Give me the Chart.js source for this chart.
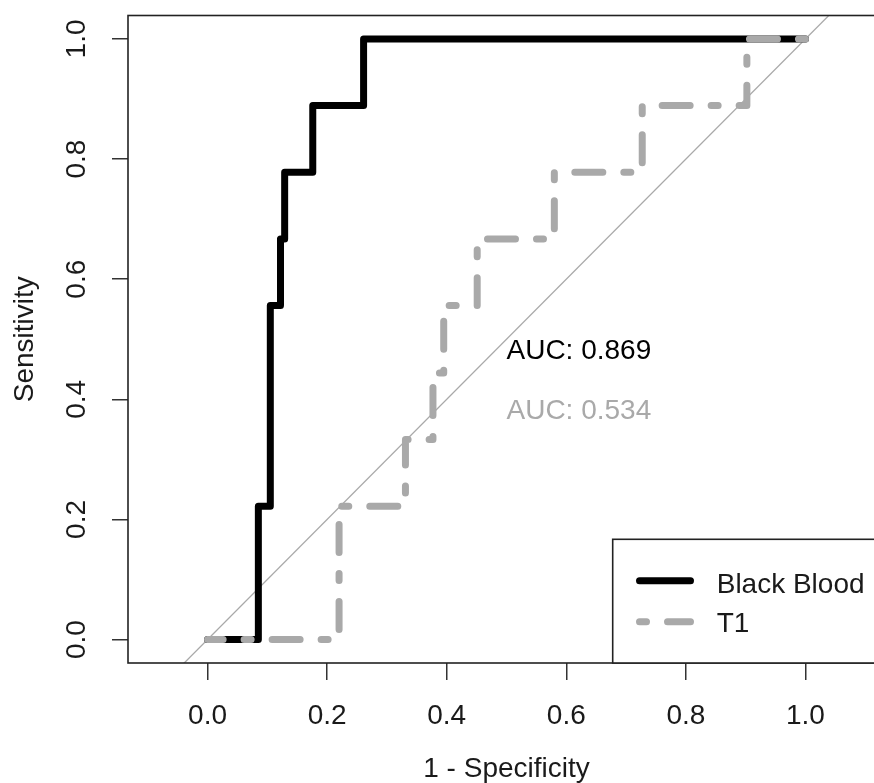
<!DOCTYPE html>
<html>
<head>
<meta charset="utf-8">
<script src="https://cdn.jsdelivr.net/npm/chart.js@4.4.1/dist/chart.umd.min.js"></script>
<style>
html, body { margin: 0; padding: 0; overflow: hidden; background: #fff; }
#wrap { position: relative; width: 900px; height: 783px; }
</style>
</head>
<body>
<div id="wrap"><canvas id="roc" width="900" height="783"></canvas></div>
<script>
// ROC curves, ordered from (1,1) down to (0,0)
const bbFpr  = [1, 0.261, 0.261, 0.176, 0.176, 0.129, 0.129, 0.122, 0.122, 0.105, 0.105, 0.085, 0.085, 0];
const bbSens = [1, 1, 0.889, 0.889, 0.778, 0.778, 0.667, 0.667, 0.556, 0.556, 0.222, 0.222, 0, 0];
const t1Fpr  = [1, 0.902, 0.902, 0.727, 0.727, 0.580, 0.580, 0.451, 0.451, 0.395, 0.395, 0.377, 0.377, 0.331, 0.331, 0.220, 0.220, 0];
const t1Sens = [1, 1, 0.889, 0.889, 0.778, 0.778, 0.667, 0.667, 0.556, 0.556, 0.444, 0.444, 0.333, 0.333, 0.222, 0.222, 0, 0];
const seriesNames = ['Black Blood', 'T1'];
const aucLabels = ['AUC: 0.869', 'AUC: 0.534'];
const xTicks = [0, 0.2, 0.4, 0.6, 0.8, 1.0];
const xTickLabels = ['0.0', '0.2', '0.4', '0.6', '0.8', '1.0'];
const yTicks = [0, 0.2, 0.4, 0.6, 0.8, 1.0];
const yTickLabels = ['0.0', '0.2', '0.4', '0.6', '0.8', '1.0'];
const identity = [-0.2, 1.3];

const FONT = "'Liberation Sans', Arial, Helvetica, sans-serif";
const TXT = '#1a1a1a';
const BB_COL = '#000000';
const T1_COL = '#a9a9a9';
const T1_DASH = [7, 21, 28, 21]; // R "dotdash"

Chart.defaults.font.family = FONT;

// box, rotated y labels, AUC text and legend, R style
const extras = {
    id: 'extras',
    afterDraw(chart) {
        const { ctx, chartArea: a, scales: { x, y } } = chart;
        ctx.save();
        ctx.strokeStyle = '#222';
        ctx.lineWidth = 1.6;
        ctx.strokeRect(a.left, a.top, a.right - a.left, a.bottom - a.top);

        ctx.font = '28px ' + FONT;
        ctx.fillStyle = TXT;
        ctx.textAlign = 'center';
        ctx.textBaseline = 'middle';
        yTicks.forEach((v, i) => {
            ctx.save();
            ctx.translate(77.3, y.getPixelForValue(v));
            ctx.rotate(-Math.PI / 2);
            ctx.fillText(yTickLabels[i], 0, 0);
            ctx.restore();
        });

        ctx.textAlign = 'left';
        ctx.fillStyle = BB_COL;
        ctx.fillText(aucLabels[0], x.getPixelForValue(0.5), y.getPixelForValue(0.48));
        ctx.fillStyle = T1_COL;
        ctx.fillText(aucLabels[1], x.getPixelForValue(0.5), y.getPixelForValue(0.38));

        // legend, bottom right of the plot
        const lx = 612.7, ly = 539.3;
        ctx.fillStyle = '#fff';
        ctx.fillRect(lx, ly, a.right - lx, a.bottom - ly);
        ctx.strokeRect(lx, ly, a.right - lx, a.bottom - ly);

        ctx.lineCap = 'round';
        ctx.lineWidth = 7;
        ctx.strokeStyle = BB_COL;
        ctx.beginPath();
        ctx.moveTo(639.5, ly + 41.4);
        ctx.lineTo(690.5, ly + 41.4);
        ctx.stroke();
        ctx.strokeStyle = T1_COL;
        ctx.setLineDash(T1_DASH);
        ctx.beginPath();
        ctx.moveTo(639.5, ly + 82.4);
        ctx.lineTo(690.5, ly + 82.4);
        ctx.stroke();
        ctx.setLineDash([]);

        ctx.fillStyle = TXT;
        ctx.textBaseline = 'alphabetic';
        ctx.fillText(seriesNames[0], 716.7, ly + 53.4);
        ctx.fillText(seriesNames[1], 716.7, ly + 92.4);
        ctx.restore();
    }
};

const pts = (xs, ys) => xs.map((v, i) => ({ x: v, y: ys[i] }));

new Chart(document.getElementById('roc'), {
    type: 'scatter',
    data: {
        datasets: [
            {
                label: seriesNames[0],
                data: pts(bbFpr, bbSens),
                showLine: true,
                borderColor: BB_COL,
                borderWidth: 7,
                borderCapStyle: 'round',
                borderJoinStyle: 'round',
                pointRadius: 0,
                order: 2
            },
            {
                label: seriesNames[1],
                data: pts(t1Fpr, t1Sens),
                showLine: true,
                borderColor: T1_COL,
                borderWidth: 7,
                borderDash: T1_DASH,
                borderCapStyle: 'round',
                borderJoinStyle: 'round',
                pointRadius: 0,
                order: 1
            },
            {
                label: 'identity',
                data: pts(identity, identity),
                showLine: true,
                borderColor: '#a9a9a9',
                borderWidth: 1.3,
                pointRadius: 0,
                order: 3
            }
        ]
    },
    options: {
        responsive: false,
        animation: false,
        layout: { padding: { left: 0, right: 15, top: 15.5, bottom: 0 } },
        plugins: { legend: { display: false }, tooltip: { enabled: false } },
        scales: {
            x: {
                type: 'linear',
                min: -0.133,
                max: 1.133,
                afterBuildTicks: s => { s.ticks = xTicks.map(v => ({ value: v })); },
                afterFit: s => { s.height = 120; },
                grid: { display: true, drawOnChartArea: false, drawTicks: true, tickLength: 17, color: '#333', lineWidth: 1.5 },
                border: { display: false },
                ticks: {
                    callback: (v, i) => xTickLabels[i],
                    font: { size: 28, lineHeight: 1 },
                    color: TXT,
                    padding: 22.3,
                    maxRotation: 0,
                    autoSkip: false
                },
                title: { display: true, text: '1 - Specificity', font: { size: 28, lineHeight: 1 }, color: TXT, padding: { top: 0, bottom: 0 } }
            },
            y: {
                type: 'linear',
                min: -0.039,
                max: 1.039,
                afterBuildTicks: s => { s.ticks = yTicks.map(v => ({ value: v })); },
                afterFit: s => { s.width = 128; },
                grid: { display: true, drawOnChartArea: false, drawTicks: true, tickLength: 16, color: '#333', lineWidth: 1.5 },
                border: { display: false },
                ticks: { display: false },
                title: { display: true, text: 'Sensitivity', font: { size: 28, lineHeight: 1 }, color: TXT, padding: { top: 11.3, bottom: 0 } }
            }
        }
    },
    plugins: [extras]
});
</script>
</body>
</html>
